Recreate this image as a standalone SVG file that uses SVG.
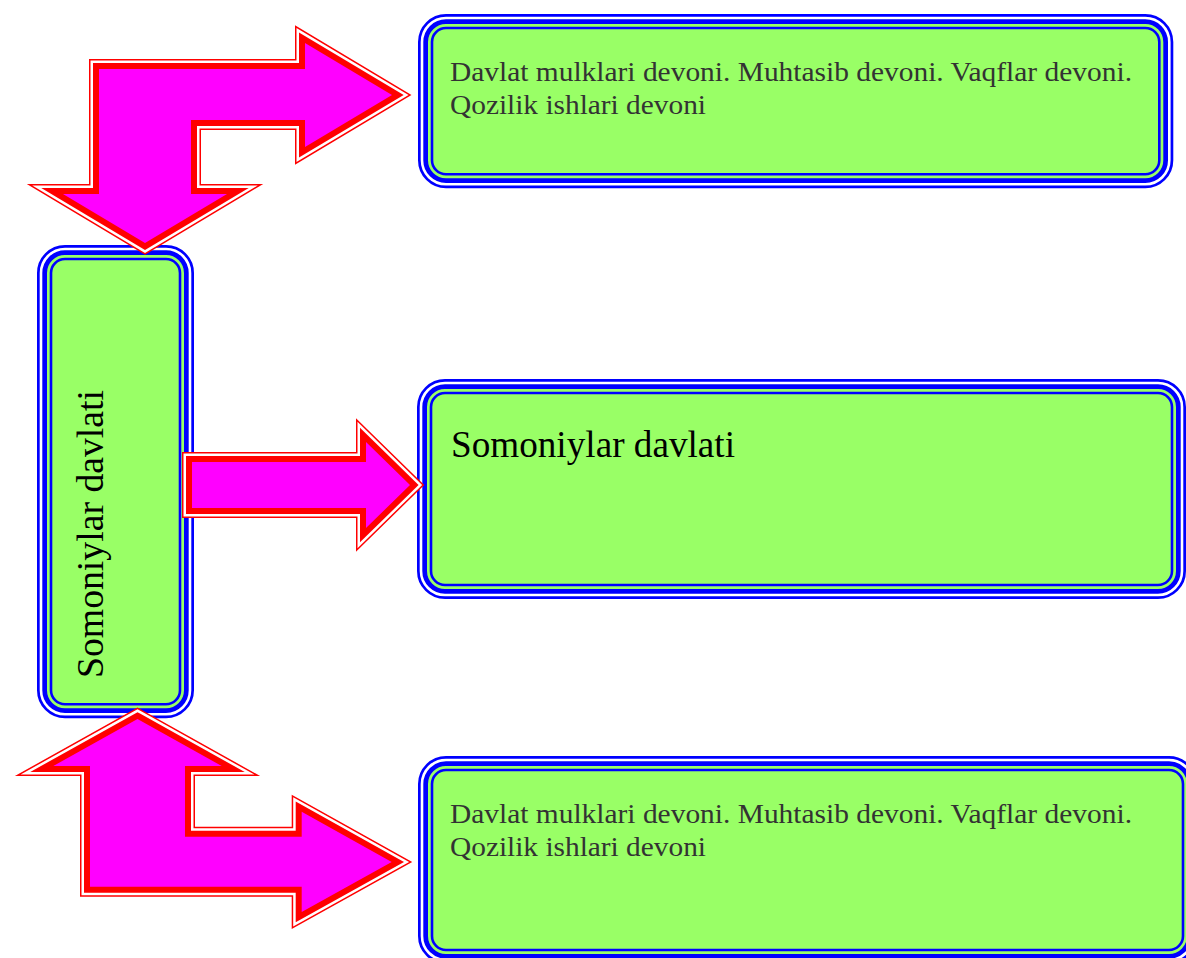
<svg xmlns="http://www.w3.org/2000/svg" xmlns:xlink="http://www.w3.org/1999/xlink" width="1186" height="958" viewBox="0 0 1186 958">
<style>
.bb{fill:#99FF66;stroke:#0000FF;stroke-width:15.3}
.bw{fill:none;stroke:#FFFFFF;stroke-width:2.6}
.bg{fill:none;stroke:#99FF66;stroke-width:2.7}
.a1{fill:none;stroke:#FF0000;stroke-width:20;stroke-linejoin:miter;stroke-miterlimit:10}
.a2{fill:none;stroke:#FFFFFF;stroke-width:17;stroke-linejoin:miter;stroke-miterlimit:10}
.a3{fill:none;stroke:#FF0000;stroke-width:12;stroke-linejoin:miter;stroke-miterlimit:10}
.a4{fill:#FF00FF;stroke:none}
.t1{font-family:"Liberation Serif","Times New Roman",serif;font-size:28px;fill:#333333}
.t2{font-family:"Liberation Serif","Times New Roman",serif;font-size:37px;fill:#000000}
</style>
<defs>
<polygon id="pTop" points="99,69 305,69 305,43 392,95 305,147 305,120 191,120 191,194 227,194 145,243 63,194 99,194"/>
<polygon id="pMid" points="192,462 366,462 366,442 410,485 366,528 366,508 192,508"/>
<polygon id="pBot" points="137.5,719 221.7,766 185,766 185,836.7 301.7,836.7 301.7,811.7 391.7,862 301.7,912 301.7,886.7 90,886.7 90,766 53.3,766"/>
</defs>

<g id="node-top">
<rect class="bb" x="425.65" y="21.65" width="740" height="159" rx="20.35"/>
<rect class="bw" x="422" y="18" width="747.3" height="166.3" rx="24"/>
<rect class="bg" x="429.35" y="25.35" width="732.6" height="151.6" rx="16.65"/>
<text class="t1" x="450" y="81" textLength="682" lengthAdjust="spacingAndGlyphs">Davlat mulklari devoni. Muhtasib devoni. Vaqflar devoni.</text>
<text class="t1" x="450" y="114" textLength="256" lengthAdjust="spacingAndGlyphs">Qozilik ishlari devoni</text>
</g>

<g id="node-middle">
<rect class="bb" x="424.65" y="386.65" width="753.7" height="204.7" rx="20.35"/>
<rect class="bw" x="421" y="383" width="761" height="212" rx="24"/>
<rect class="bg" x="428.35" y="390.35" width="746.3" height="197.3" rx="16.65"/>
<text class="t2" x="451" y="457" textLength="284" lengthAdjust="spacingAndGlyphs">Somoniylar davlati</text>
</g>

<g id="node-bottom">
<rect class="bb" x="425.65" y="763.65" width="763.7" height="192.7" rx="20.35"/>
<rect class="bw" x="422" y="760" width="771" height="200" rx="24"/>
<rect class="bg" x="429.35" y="767.35" width="756.3" height="185.3" rx="16.65"/>
<text class="t1" x="450" y="823" textLength="682" lengthAdjust="spacingAndGlyphs">Davlat mulklari devoni. Muhtasib devoni. Vaqflar devoni.</text>
<text class="t1" x="450" y="856" textLength="256" lengthAdjust="spacingAndGlyphs">Qozilik ishlari devoni</text>
</g>

<g id="node-left">
<rect class="bb" x="44.65" y="252.65" width="141.7" height="458" rx="20.35"/>
<rect class="bw" x="41" y="249" width="149" height="465.3" rx="24"/>
<rect class="bg" x="48.35" y="256.35" width="134.3" height="450.6" rx="16.65"/>
<text class="t2" transform="translate(103,678) rotate(-90)" x="0" y="0" textLength="288" lengthAdjust="spacingAndGlyphs">Somoniylar davlati</text>
</g>

<g id="connectors">
<g id="arrow-top">
<use xlink:href="#pTop" class="a1"/>
<use xlink:href="#pTop" class="a2"/>
<use xlink:href="#pTop" class="a3"/>
<use xlink:href="#pTop" class="a4"/>
</g>
<g id="arrow-middle">
<use xlink:href="#pMid" class="a1"/>
<use xlink:href="#pMid" class="a2"/>
<use xlink:href="#pMid" class="a3"/>
<use xlink:href="#pMid" class="a4"/>
</g>
<g id="arrow-bottom">
<use xlink:href="#pBot" class="a1"/>
<use xlink:href="#pBot" class="a2"/>
<use xlink:href="#pBot" class="a3"/>
<use xlink:href="#pBot" class="a4"/>
</g>
</g>
</svg>
